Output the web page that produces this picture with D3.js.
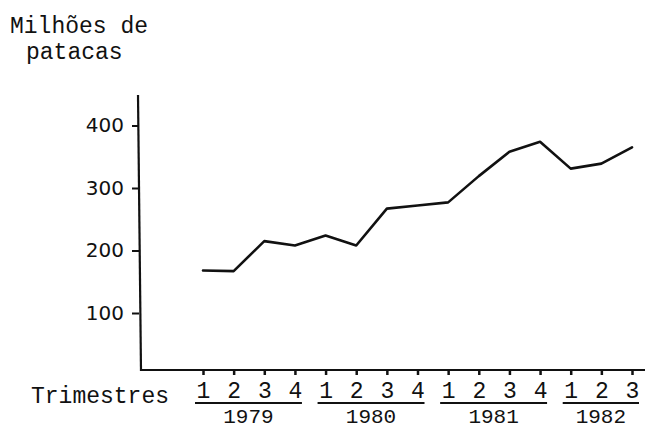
<!DOCTYPE html>
<html>
<head>
<meta charset="utf-8">
<script src="https://cdn.jsdelivr.net/npm/d3@7"></script>
<style>
  html, body { margin: 0; padding: 0; background: #fff; }
  svg { display: block; }
</style>
</head>
<body>
<svg id="chart" width="656" height="431"></svg>
<script>
// ---- data ----
const years = ["1979", "1980", "1981", "1982"];
const quartersPerYear = [4, 4, 4, 3];
const quarterLabels = ["1","2","3","4","1","2","3","4","1","2","3","4","1","2","3"];
const values = [168, 167, 215, 208, 224, 208, 267, 272, 277, 319, 358, 374, 331, 339, 365];
const yTicks = [100, 200, 300, 400];
const yTitle = ["Milhões de", "patacas"];
const xTitle = "Trimestres";

// ---- layout ----
const svg = d3.select("#chart");
const mono = "'Liberation Mono', 'DejaVu Sans Mono', monospace";
const sans = "'DejaVu Sans', sans-serif";
const axisX = 139, axisTop = 95, baseY = 370, axisRight = 645;

const x = d3.scaleLinear().domain([0, values.length - 1]).range([203, 632]);
const y = d3.scaleLinear().domain([0, 400]).range([375.5, 125.5]);

// y title
svg.append("text").attr("x", 10).attr("y", 33)
  .attr("font-family", mono).attr("font-size", 23).attr("fill", "#111")
  .text(yTitle[0]);
svg.append("text").attr("x", 26).attr("y", 59)
  .attr("font-family", mono).attr("font-size", 23).attr("fill", "#111")
  .text(yTitle[1]);

// y axis
const yAxis = d3.axisLeft(y).tickValues(yTicks).tickSize(7).tickPadding(8).tickFormat(d3.format("d"));
const gy = svg.append("g").attr("transform", `translate(${axisX},0)`).call(yAxis);
gy.select(".domain").remove();
gy.selectAll(".tick line").attr("stroke", "#111").attr("stroke-width", 2);
gy.selectAll(".tick text").attr("font-family", sans).attr("font-size", 20).attr("fill", "#111");
svg.append("line").attr("x1", axisX - 1).attr("y1", axisTop).attr("x2", axisX + 2).attr("y2", baseY + 1)
  .attr("stroke", "#111").attr("stroke-width", 2.2);

// x axis line
svg.append("line").attr("x1", axisX + 1).attr("y1", baseY).attr("x2", axisRight).attr("y2", baseY)
  .attr("stroke", "#111").attr("stroke-width", 2.2);

// quarter ticks and labels
const gx = svg.append("g").attr("transform", `translate(0,${baseY})`)
  .call(d3.axisBottom(x).tickValues(d3.range(values.length)).tickSize(5).tickPadding(12)
    .tickFormat(i => quarterLabels[i]));
gx.select(".domain").remove();
gx.selectAll(".tick line").attr("stroke", "#111").attr("stroke-width", 2.5);
gx.selectAll(".tick text").attr("font-family", mono).attr("font-size", 23).attr("fill", "#111")
  .attr("dy", null).attr("y", 28);

// x title
svg.append("text").attr("x", 31).attr("y", 403)
  .attr("font-family", mono).attr("font-size", 23).attr("fill", "#111")
  .text(xTitle);

// year underlines and labels
let start = 0;
years.forEach((yr, k) => {
  const n = quartersPerYear[k];
  const x0 = x(start) - 8, x1 = x(start + n - 1) + 7;
  svg.append("line").attr("x1", x0).attr("x2", x1).attr("y1", 403).attr("y2", 403)
    .attr("stroke", "#111").attr("stroke-width", 2);
  svg.append("text").attr("x", (x0 + x1) / 2).attr("y", 423).attr("text-anchor", "middle")
    .attr("font-family", mono).attr("font-size", 21).attr("fill", "#111")
    .text(yr);
  start += n;
});

// data line
const line = d3.line().x((d, i) => x(i)).y(d => y(d));
svg.append("path").datum(values).attr("d", line)
  .attr("fill", "none").attr("stroke", "#111").attr("stroke-width", 2.6)
  .attr("stroke-linejoin", "round").attr("stroke-linecap", "round");
</script>
</body>
</html>
